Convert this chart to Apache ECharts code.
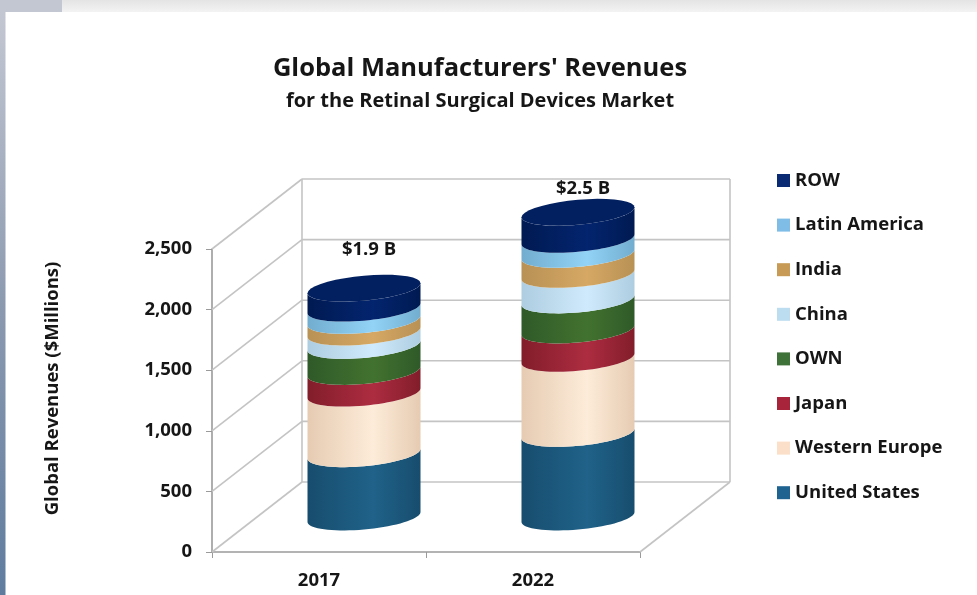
<!DOCTYPE html>
<html>
<head>
<meta charset="utf-8">
<style>html,body{margin:0;padding:0;background:#fff}#c{width:977px;height:595px}</style>
<script src="https://cdn.jsdelivr.net/npm/echarts@6/dist/echarts.min.js"></script>
</head>
<body>
<div id="c"></div>
<script>
const years = ['2017', '2022'];
const yTicks = [0, 500, 1000, 1500, 2000, 2500];
const unitedStates = [522, 690];
const westernEurope = [500, 619];
const japan = [179, 234];
const own = [215, 248];
const china = [110, 211];
const india = [96, 165];
const latinAmerica = [101, 124];
const row = [165, 223];
const totalLabels = ['$1.9 B', '$2.5 B'];
const totalLabelLift = [38, 24];

const regions = [
  {name: 'United States', values: unitedStates, legend: '#1f6391', edge: '#174d6e', mid: '#206289'},
  {name: 'Western Europe', values: westernEurope, legend: '#fbdfc8', edge: '#e6cbb2', mid: '#fdecd9'},
  {name: 'Japan', values: japan, legend: '#a8243a', edge: '#821d2a', mid: '#ad2c40'},
  {name: 'OWN', values: own, legend: '#3f7238', edge: '#2f5a29', mid: '#42722f'},
  {name: 'China', values: china, legend: '#bcdcf0', edge: '#aecde0', mid: '#cfeafc'},
  {name: 'India', values: india, legend: '#c79a55', edge: '#b89155', mid: '#d6a864'},
  {name: 'Latin America', values: latinAmerica, legend: '#7fbde6', edge: '#72adcf', mid: '#92d3f6'},
  {name: 'ROW', values: row, legend: '#0a2a73', edge: '#001a52', mid: '#03246e'}
];

const DEPTH_X = 90, DEPTH_Y = 70;
const RADIUS_X = 56.5, RADIUS_Y = 12.5, TILT = 0.088;
const GRID = '#c4c4c4', AXIS = '#9a9a9a', INK = '#161616';
const FONT = '"Open Sans"';

function arc(cx, cy, from, to) {
  const pts = [], n = 36;
  for (let i = 0; i <= n; i++) {
    const t = from + (to - from) * i / n;
    const dx = RADIUS_X * Math.cos(t);
    pts.push([cx + dx, cy + RADIUS_Y * Math.sin(t) - dx * TILT]);
  }
  return pts;
}
function shade(r) {
  return {type: 'linear', x: 0, y: 0, x2: 1, y2: 0, colorStops: [
    {offset: 0, color: r.edge}, {offset: 0.58, color: r.mid}, {offset: 1, color: r.edge}
  ]};
}
function wallItem(params, api) {
  const g = params.coordSys;
  const v = api.value(0), yy = api.coord([0, v])[1];
  const style = {stroke: GRID, lineWidth: 1.6, fill: null};
  const L = g.x, R = g.x + g.width;
  const kids = [
    {type: 'line', shape: {x1: L, y1: yy, x2: L + DEPTH_X, y2: yy - DEPTH_Y}, style},
    {type: 'line', shape: {x1: L + DEPTH_X, y1: yy - DEPTH_Y, x2: R + DEPTH_X, y2: yy - DEPTH_Y}, style}
  ];
  if (v === 0) {
    const top = g.y - DEPTH_Y;
    kids.push({type: 'line', shape: {x1: R, y1: yy, x2: R + DEPTH_X, y2: yy - DEPTH_Y}, style});
    kids.push({type: 'line', shape: {x1: L + DEPTH_X, y1: yy - DEPTH_Y, x2: L + DEPTH_X, y2: top}, style});
    kids.push({type: 'line', shape: {x1: R + DEPTH_X, y1: yy - DEPTH_Y, x2: R + DEPTH_X, y2: top}, style});
  }
  return {type: 'group', children: kids};
}
function bandSeries(r, idx) {
  const rows = years.map((y, i) => {
    let base = 0;
    for (let k = 0; k < idx; k++) base += regions[k].values[i];
    return [i, base, base + r.values[i]];
  });
  return {
    name: r.name, type: 'custom', z: 5 + idx, itemStyle: {color: r.legend},
    data: rows, encode: {x: 0, y: 2},
    renderItem(params, api) {
      const lo = api.coord([api.value(0), api.value(1)]);
      const hi = api.coord([api.value(0), api.value(2)]);
      const cx = lo[0] + DEPTH_X / 2;
      const yLo = lo[1] - DEPTH_Y / 2, yHi = hi[1] - DEPTH_Y / 2;
      const points = arc(cx, yHi, 0, Math.PI).concat(arc(cx, yLo, Math.PI, 0));
      const kids = [{type: 'polygon', shape: {points}, style: {fill: shade(r)}}];
      if (r.name === 'ROW') {
        kids.push({type: 'polygon', shape: {points: arc(cx, yHi, 0, Math.PI * 2)}, style: {fill: '#02205f'}});
      }
      return {type: 'group', children: kids};
    }
  };
}
const totalSeries = {
  type: 'custom', z: 20,
  data: years.map((y, i) => [i, regions.reduce((s, r) => s + r.values[i], 0), i]),
  encode: {x: 0, y: 1},
  renderItem(params, api) {
    const p = api.coord([api.value(0), api.value(1)]);
    const i = api.value(2);
    return {type: 'text', style: {
      x: p[0] + DEPTH_X / 2 + 5, y: p[1] - DEPTH_Y / 2 - totalLabelLift[i],
      text: totalLabels[i], align: 'center', verticalAlign: 'middle',
      font: 'bold 18.5px ' + FONT, fill: INK
    }};
  }
};
const wallSeries = {type: 'custom', z: 1, data: yTicks.map(v => [v]), encode: {y: 0}, renderItem: wallItem};

const chart = echarts.init(document.getElementById('c'), null, {renderer: 'canvas'});
chart.setOption({
  animation: false,
  backgroundColor: '#fff',
  title: {
    text: "Global Manufacturers' Revenues",
    subtext: 'for the Retinal Surgical Devices Market',
    left: 475, top: 51, textAlign: 'center', itemGap: 9,
    textStyle: {fontFamily: FONT, fontSize: 25.5, fontWeight: 'bold', color: INK},
    subtextStyle: {fontFamily: FONT, fontSize: 20, fontWeight: 'bold', color: INK}
  },
  legend: {
    left: 777, top: 171, orient: 'vertical', icon: 'rect', itemWidth: 13, itemHeight: 13,
    itemGap: 25.6, padding: 0, selectedMode: false,
    data: regions.slice().reverse().map(r => r.name),
    textStyle: {fontFamily: FONT, fontSize: 18.5, fontWeight: 'bold', color: INK}
  },
  grid: {left: 212, top: 249, width: 428, height: 303},
  xAxis: {
    type: 'category', data: years, boundaryGap: true,
    axisLine: {show: true, lineStyle: {color: AXIS, width: 1.6}},
    axisTick: {show: true, length: 6, lineStyle: {color: AXIS}},
    axisLabel: {margin: 19, fontFamily: FONT, fontSize: 18.5, fontWeight: 'bold', color: INK}
  },
  yAxis: {
    type: 'value', min: 0, max: 2500, interval: 500,
    name: 'Global Revenues ($Millions)', nameLocation: 'middle', nameRotate: 90, nameGap: 150,
    nameTextStyle: {fontFamily: FONT, fontSize: 18.5, fontWeight: 'bold', color: INK, padding: [0, 0, 0, 24]},
    axisLine: {show: true, lineStyle: {color: AXIS, width: 1.6}},
    axisTick: {show: true, length: 6, lineStyle: {color: AXIS}},
    splitLine: {show: false},
    axisLabel: {margin: 20, padding: [4, 0, 0, 0], fontFamily: FONT, fontSize: 18.5, fontWeight: 'bold', color: INK}
  },
  graphic: [
    {type: 'rect', z: -1, shape: {x: 0, y: 0, width: 977, height: 12}, style: {fill: {type: 'linear', x: 0, y: 0, x2: 0, y2: 1, colorStops: [{offset: 0, color: '#e4e4e4'}, {offset: 1, color: '#f3f3f3'}]}}},
    {type: 'rect', z: -1, shape: {x: 0, y: 0, width: 62, height: 12}, style: {fill: '#c3c7d2'}},
    {type: 'rect', z: -1, shape: {x: 0, y: 12, width: 5.5, height: 583}, style: {fill: {type: 'linear', x: 0, y: 0, x2: 0, y2: 1, colorStops: [{offset: 0, color: '#c3c7d2'}, {offset: 0.5, color: '#8c9ab0'}, {offset: 1, color: '#5f7c9f'}]}}}
  ],
  series: [wallSeries].concat(regions.map(bandSeries), [totalSeries])
});
</script>
</body>
</html>
